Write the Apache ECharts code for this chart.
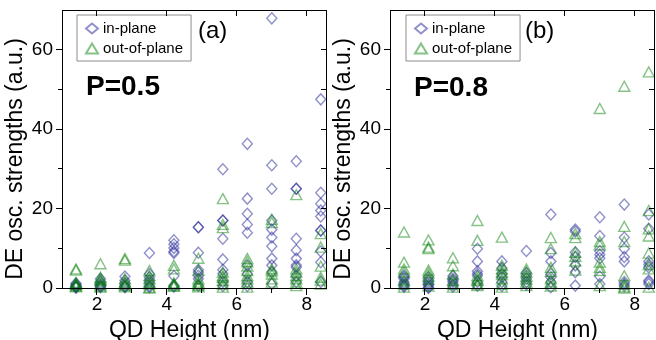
<!DOCTYPE html>
<html><head><meta charset="utf-8">
<script src="https://cdn.jsdelivr.net/npm/echarts@6/dist/echarts.min.js"></script>
<style>html,body{margin:0;padding:0;background:#fff}#c{width:656px;height:340px}</style>
</head><body><div id="c"></div>
<script>
// QD heights (nm) of each column of points
const heights = [1.4, 2.1, 2.8, 3.5, 4.2, 4.9, 5.6, 6.3, 7.0, 7.7, 8.4];
const xTickLabels = [2, 4, 6, 8];
const xMinorTicks = [3, 5, 7];
const yTickLabels = [0, 20, 40, 60];
const yMinorTicks = [10, 30, 50];
const yRightTicks = [10, 20, 30, 40, 50, 60];

// Panel (a) P=0.5 : values per height column
const aInPlane = [
  [0.2, 0.4, 0.6, 0.9, 1.2, 0.3, 0.1],
  [0.2, 0.6, 1.0, 1.5, 2.3, 0.4],
  [0.3, 0.6, 1.2, 1.9, 2.9, 0.2],
  [8.8, 3.5, 2.7, 1.9, 1.3, 0.5, 0.2],
  [12.0, 11.0, 10.1, 9.2, 8.8, 3.0, 0.6, 0.3],
  [15.3, 15.3, 8.9, 4.6, 4.0, 3.1, 2.3, 0.6],
  [29.9, 17.0, 17.0, 12.4, 7.2, 4.6, 3.6, 1.5, 0.5],
  [36.3, 22.5, 18.7, 16.0, 13.9, 5.7, 3.5, 1.5, 0.5],
  [67.9, 30.9, 25.0, 17.0, 14.7, 12.7, 10.5, 7.4, 5.7, 4.0, 1.0],
  [31.9, 25.0, 25.0, 12.4, 9.5, 7.4, 5.7, 5.2, 3.0, 1.5],
  [47.5, 24.0, 21.2, 19.5, 18.0, 14.5, 14.5, 9.2, 6.5, 1.5]
];
const aOutOfPlane = [
  [4.8, 4.5, 1.0, 0.8, 0.5, 0.3, 1.4],
  [6.1, 2.7, 1.9, 1.0, 0.5, 0.2, 2.2],
  [7.4, 2.3, 1.5, 0.6, 0.3, 1.0, 7.0],
  [4.4, 3.1, 2.3, 1.5, 1.0, 0.2, 0.0],
  [5.7, 4.8, 1.0, 0.6, 0.4, 1.3],
  [7.5, 4.5, 2.3, 1.5, 0.6, 0.3, 1.0],
  [22.5, 15.2, 16.0, 4.0, 3.1, 2.7, 1.9, 1.0, 0.2],
  [7.4, 6.6, 4.4, 3.1, 2.3, 1.5, 0.2, 5.5],
  [17.3, 16.5, 4.8, 4.3, 2.3, 3.5, 1.5],
  [23.5, 4.8, 4.0, 3.1, 2.3, 1.5, 0.6],
  [13.7, 10.3, 5.5, 2.7, 1.0, 2.0]
];

// Panel (b) P=0.8
const bInPlane = [
  [3.1, 2.3, 1.5, 0.6, 0.3, 1.0, 2.7],
  [2.7, 1.5, 0.6, 0.2, 1.0, 2.0, 0.0],
  [2.3, 1.5, 0.8, 0.3, 1.9, 3.0],
  [9.9, 6.7, 4.2, 3.1, 1.5, 0.6, 3.6],
  [6.7, 5.0, 2.7, 3.5, 1.5, 0.5],
  [9.3, 3.1, 2.4, 1.5, 3.8, 0.8],
  [18.5, 8.8, 6.7, 3.5, 2.7, 1.5, 0.2],
  [14.7, 14.2, 9.0, 7.8, 5.7, 4.0, 0.6],
  [17.8, 13.1, 9.3, 8.4, 7.5, 2.9, 1.0],
  [21.0, 12.7, 9.9, 7.8, 6.7, 1.5, 0.5, 1.0],
  [18.5, 14.9, 6.7, 5.9, 5.2, 1.9, 1.5, 1.0]
];
const bOutOfPlane = [
  [14.1, 6.5, 4.8, 4.0, 2.0, 1.0, 0.2],
  [12.1, 10.3, 9.9, 4.5, 3.8, 3.0, 2.2, 0.5],
  [7.6, 5.6, 3.5, 1.9, 1.0, 0.2],
  [17.0, 12.0, 3.1, 2.3, 1.0, 0.6, 1.9],
  [12.8, 5.7, 4.8, 4.0, 2.3, 1.0, 0.2, 3.4],
  [4.8, 4.0, 3.0, 2.3, 1.5, 0.6],
  [12.7, 9.9, 5.2, 2.3, 1.5, 0.5, 4.2],
  [13.7, 12.7, 9.0, 8.0, 6.8, 4.5],
  [45.2, 11.7, 10.9, 6.5, 5.2, 4.4, 0.6],
  [50.8, 15.5, 11.7, 3.1, 1.0, 0.3, 0.0],
  [54.4, 19.5, 14.9, 13.1, 8.8, 5.9, 4.8, 0.2]
];

const X_MIN = 1, X_MAX = 8.55, Y_MIN = 0, Y_MAX = 70;
const FONT = 'Liberation Sans, Arial, Helvetica, sans-serif';
const BLUE = 'rgba(30,30,150,0.62)';
const GREEN = 'rgba(10,130,10,0.62)';

function pairs(cols) {
  const out = [];
  cols.forEach((vals, i) => vals.forEach(v => out.push([heights[i], v])));
  return out;
}

const grids = [
  { left: 62, top: 10, width: 264, height: 278, outerBoundsMode: 'none', containLabel: false },
  { left: 390, top: 10, width: 264, height: 278, outerBoundsMode: 'none', containLabel: false }
];

const xAxes = grids.map((g, gi) => ({
  type: 'value', gridIndex: gi, min: X_MIN, max: X_MAX, position: 'bottom',
  splitLine: { show: false },
  axisLine: { show: false, onZero: false },
  axisTick: { show: false },
  axisLabel: { show: true, customValues: xTickLabels, color: '#000', fontSize: 19, fontFamily: FONT, margin: 7 },
  name: 'QD Height (nm)', nameLocation: 'middle', nameGap: 14,
  nameTextStyle: { color: '#000', fontSize: 23, fontFamily: FONT, verticalAlign: 'top', padding: [0, 9, 0, 0] }
}));
const yAxes = grids.map((g, gi) => ({
  type: 'value', gridIndex: gi, min: Y_MIN, max: Y_MAX, position: 'left',
  splitLine: { show: false },
  axisLine: { show: false, onZero: false },
  axisTick: { show: false },
  axisLabel: { show: true, customValues: yTickLabels, color: '#000', fontSize: 19, fontFamily: FONT, margin: 9 }
}));

function sc(name, data, gi, isIn) {
  return {
    type: 'scatter', name: name, xAxisIndex: gi, yAxisIndex: gi,
    data: pairs(data),
    symbol: isIn ? 'diamond' : 'triangle',
    symbolSize: isIn ? [10, 11] : [11, 10],
    itemStyle: { color: 'transparent', borderColor: isIn ? BLUE : GREEN, borderWidth: 1.4 }
  };
}

function legendAt(left) {
  return {
    left: left, top: 15, orient: 'vertical', data: ['in-plane', 'out-of-plane'],
    borderColor: '#8c8c8c', borderWidth: 1, padding: [6, 8, 5, 8], itemGap: 5,
    itemWidth: 12, itemHeight: 10, selectedMode: false,
    textStyle: { fontSize: 15, fontFamily: FONT, color: '#000' }
  };
}

const txt = (x, y, s, size, bold) => ({
  type: 'text', x: x, y: y,
  style: { text: s, fontSize: size, fontFamily: FONT, fontWeight: bold ? 'bold' : 'normal',
           fill: '#000', verticalAlign: 'middle' }
});

const chart = echarts.init(document.getElementById('c'));
chart.setOption({
  animation: false,
  grid: grids,
  xAxis: xAxes,
  yAxis: yAxes,
  legend: [legendAt(77), legendAt(406)],
  series: [
    sc('in-plane', aInPlane, 0, true),
    sc('out-of-plane', aOutOfPlane, 0, false),
    sc('in-plane', bInPlane, 1, true),
    sc('out-of-plane', bOutOfPlane, 1, false)
  ]
});

// Frame and ticks drawn as filled 1px rectangles, positioned through the axes' scales
const deco = [
  txt(198, 31, '(a)', 24, false),
  txt(86, 87, 'P=0.5', 28, true),
  txt(525, 31, '(b)', 24, false),
  txt(414, 88, 'P=0.8', 28, true)
];
function R(x, y, w, h) {
  deco.push({ type: 'rect', silent: true, z: 100,
    shape: { x: x, y: y, width: w, height: h }, style: { fill: '#000' } });
}
grids.forEach((g, gi) => {
  const X = v => Math.floor(chart.convertToPixel({ xAxisIndex: gi }, v));
  const Y = v => Math.floor(chart.convertToPixel({ yAxisIndex: gi }, v));
  const xl = X(X_MIN), xr = X(X_MAX), yb = Y(Y_MIN), yt = Y(Y_MAX);
  R(xl, yt, 1, yb - yt + 1);
  R(xr, yt, 1, yb - yt + 1);
  R(xl, yt, xr - xl + 1, 1);
  R(xl, yb, xr - xl + 1, 1);
  xTickLabels.forEach(v => { const x = X(v); R(x, yb + 1, 1, 6); R(x, yt + 1, 1, 5); });
  xMinorTicks.forEach(v => { const x = X(v); R(x, yb + 1, 1, 4); });
  yTickLabels.forEach(v => { const y = Y(v); R(xl - 6, y, 6, 1); });
  yMinorTicks.forEach(v => { const y = Y(v); R(xl - 4, y, 4, 1); });
  yRightTicks.forEach(v => { const y = Y(v); R(xr - 5, y, 5, 1); });
  deco.push({ type: 'text', silent: true, x: xl - 46,
    y: (chart.convertToPixel({ yAxisIndex: gi }, Y_MIN) + chart.convertToPixel({ yAxisIndex: gi }, Y_MAX)) / 2 + 10,
    rotation: Math.PI / 2,
    style: { text: 'DE osc. strengths (a.u.)', fontSize: 23, fontFamily: FONT, fill: '#000',
             align: 'center', verticalAlign: 'middle' } });
});
chart.setOption({ graphic: deco });
</script></body></html>
